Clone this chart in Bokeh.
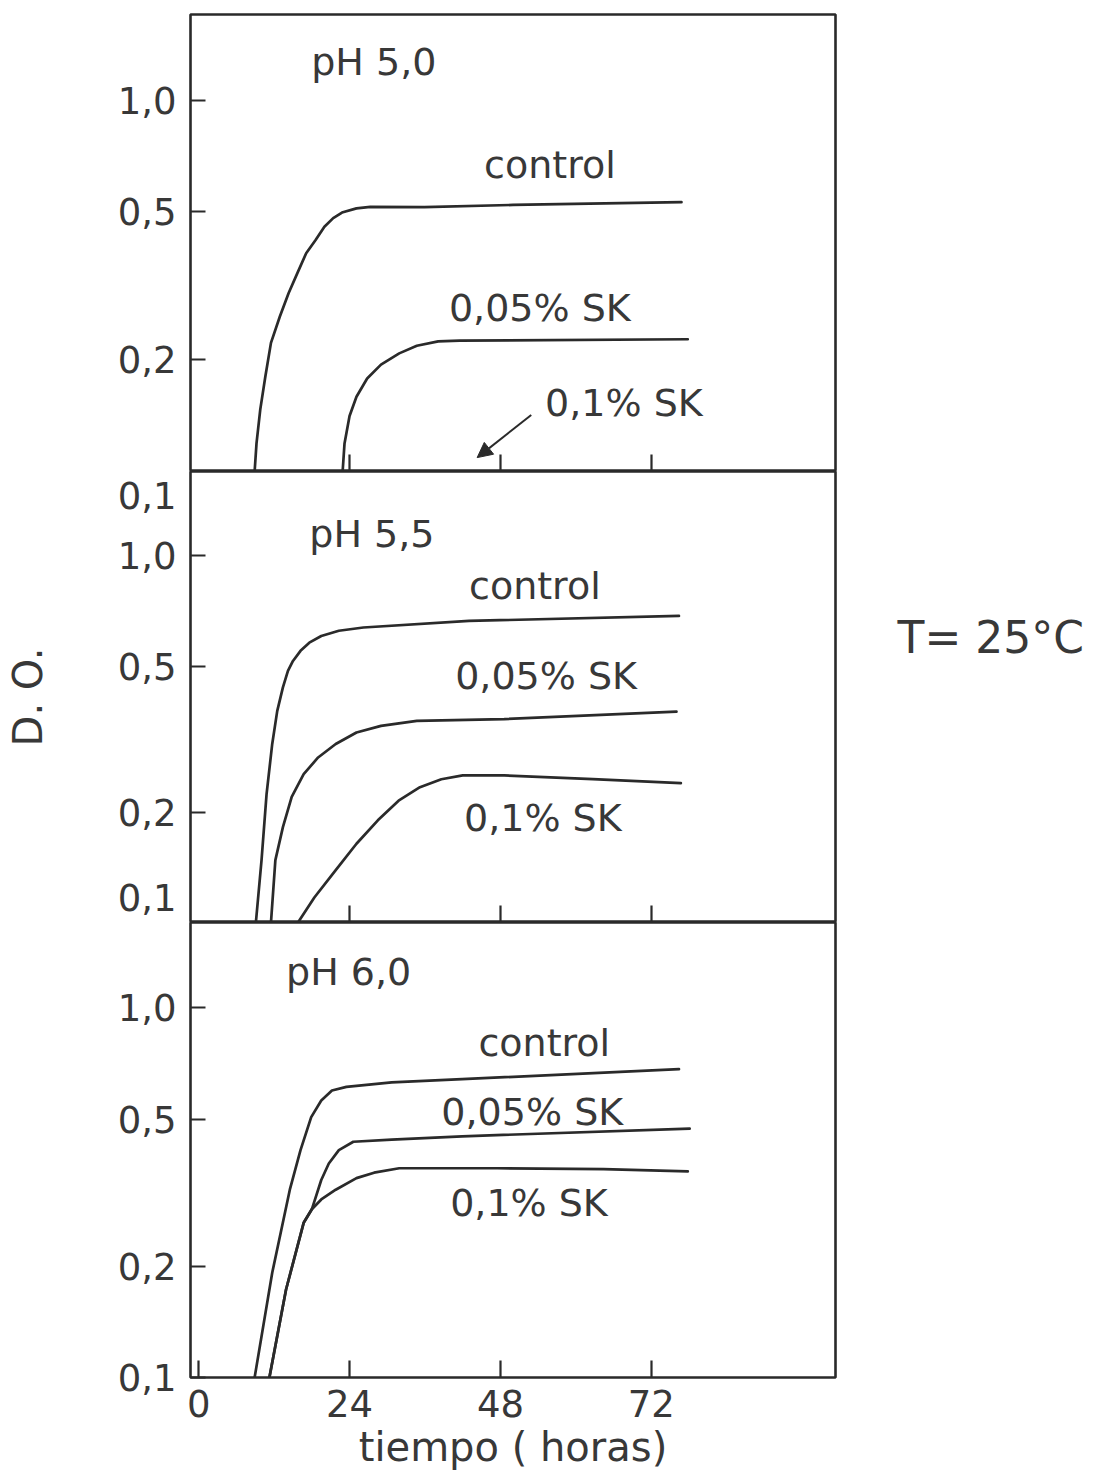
import math
from bokeh.plotting import figure
from bokeh.models import (Range1d, FixedTicker, Arrow, NormalHead, LogAxis,
                          ColumnDataSource, CustomJSTickFormatter)
from bokeh.layouts import column
from bokeh.core.properties import value
from bokeh.embed import file_html
from bokeh.resources import INLINE

# ---------------- data (hours, D.O.) ----------------
# pH 5,0
ph50_control_h = [8.9, 9.2, 9.8, 10.6, 11.5, 12.9, 14.3, 15.7, 17.1, 18.6, 20.0, 21.4, 22.8,
                  25.1, 27.3, 35.9, 50.0, 76.8]
ph50_control_v = [0.100, 0.119, 0.147, 0.180, 0.222, 0.261, 0.302, 0.342, 0.387, 0.420, 0.456,
                  0.481, 0.498, 0.511, 0.516, 0.515, 0.522, 0.531]
ph50_sk005_h = [22.9, 23.2, 24.0, 25.1, 26.8, 29.0, 31.9, 34.7, 38.1, 41.5, 77.8]
ph50_sk005_v = [0.100, 0.119, 0.141, 0.159, 0.178, 0.194, 0.208, 0.218, 0.224, 0.225, 0.227]
ph50_sk01_h = [0.0, 77.8]
ph50_sk01_v = [0.100, 0.100]

# pH 5,5
ph55_control_h = [9.1, 10.0, 10.8, 11.7, 12.5, 13.4, 14.2, 15.0, 16.2, 17.6, 19.5, 22.3, 26.2,
                  43.0, 76.4]
ph55_control_v = [0.100, 0.148, 0.224, 0.307, 0.378, 0.438, 0.486, 0.517, 0.551, 0.580, 0.605,
                  0.625, 0.638, 0.665, 0.686]
ph55_sk005_h = [11.5, 12.2, 13.4, 14.8, 16.7, 19.0, 21.8, 25.1, 29.0, 34.7, 48.6, 76.0]
ph55_sk005_v = [0.100, 0.148, 0.182, 0.220, 0.254, 0.282, 0.307, 0.330, 0.344, 0.355, 0.359, 0.376]
ph55_sk01_h = [15.8, 18.4, 21.8, 25.1, 28.5, 31.8, 35.2, 38.6, 42.0, 48.6, 62.7, 76.7]
ph55_sk01_v = [0.100, 0.117, 0.139, 0.164, 0.190, 0.215, 0.234, 0.246, 0.252, 0.252, 0.246, 0.240]

# pH 6,0
ph60_control_h = [8.9, 11.7, 14.5, 16.2, 17.9, 19.5, 21.2, 23.5, 30.7, 41.9, 76.4]
ph60_control_v = [0.100, 0.192, 0.322, 0.412, 0.506, 0.561, 0.597, 0.611, 0.628, 0.641, 0.682]
ph60_sk005_h = [11.25, 13.9, 16.7, 18.0, 19.5, 20.7, 22.3, 24.6, 30.7, 41.9, 78.1]
ph60_sk005_v = [0.100, 0.173, 0.262, 0.285, 0.342, 0.379, 0.412, 0.434, 0.440, 0.449, 0.471]
ph60_sk01_h = [11.25, 13.9, 16.7, 18.0, 19.5, 21.8, 25.1, 27.9, 31.9, 47.5, 64.4, 77.8]
ph60_sk01_v = [0.100, 0.173, 0.262, 0.285, 0.303, 0.322, 0.346, 0.358, 0.368, 0.368, 0.366, 0.361]

# labels inside panels (text, hours, D.O. at the text baseline)
ph50_labels = ["pH 5,0", "control", "0,05% SK", "0,1% SK"]
ph50_label_h = [17.9, 45.4, 39.8, 55.1]
ph50_label_v = [1.155, 0.609, 0.251, 0.139]
ph55_labels = ["pH 5,5", "control", "0,05% SK", "0,1% SK"]
ph55_label_h = [17.6, 43.0, 40.8, 42.2]
ph55_label_v = [1.042, 0.754, 0.429, 0.176]
ph60_labels = ["pH 6,0", "control", "0,05% SK", "0,1% SK"]
ph60_label_h = [13.9, 44.5, 38.6, 40.0]
ph60_label_v = [1.140, 0.733, 0.476, 0.270]

# arrow pointing to the 0,1% SK curve at pH 5,0
arrow_start = (52.9, 0.142)
arrow_end = (44.3, 0.109)

x_ticks = [24, 48, 72]
x_ticks_bottom = [0, 24, 48, 72]
y_ticks = [0.2, 0.5, 1.0]
y_ticks_bottom = [0.1, 0.2, 0.5, 1.0]
X_RANGE = (-1.3, 101.3)
Y_RANGE = (0.1, 1.7)

y_title = "D. O."
temp_note = "T= 25°C"
temp_note_at = 0.601
x_title = "tiempo ( horas)"

FONT = "DejaVu Sans"
INK = "#2a2a2a"
TXT = "#383838"

FRAME_W = 645
FRAME_H = (457, 451, 455)
DECADE_PX = FRAME_H[1] / math.log10(Y_RANGE[1] / Y_RANGE[0])
# where the two "0,1" labels that sit on the shared borders are written (in the middle panel)
upper_zero_one = Y_RANGE[1] * 10 ** (-24 / DECADE_PX)
lower_zero_one = Y_RANGE[0] * 10 ** (25 / DECADE_PX)

fmt_y = CustomJSTickFormatter(code="""
    if (tick > 1.2 || tick < 0.15) return "0,1";
    return tick.toFixed(1).replace('.', ',');
""")
fmt_blank = CustomJSTickFormatter(code="return '';")


def style_ticks_only(ax, tick_in):
    ax.formatter = fmt_blank
    ax.major_label_standoff = 0
    ax.major_label_text_font_size = "0px"
    ax.major_tick_in = tick_in
    ax.major_tick_out = 0
    ax.minor_tick_in = 0
    ax.minor_tick_out = 0
    ax.major_tick_line_color = INK
    ax.major_tick_line_width = 2.2
    ax.axis_line_color = None


def style_labels(ax, standoff=14):
    ax.formatter = fmt_y
    ax.major_label_standoff = standoff
    ax.major_label_text_font = FONT
    ax.major_label_text_font_size = "37px"
    ax.major_label_text_color = TXT


def make_panel(frame_h, top_border, bottom):
    p = figure(frame_width=FRAME_W, frame_height=frame_h,
               x_range=Range1d(*X_RANGE), y_range=Range1d(*Y_RANGE),
               y_axis_type="log", output_backend="svg", toolbar_location=None,
               min_border_left=190, min_border_right=265,
               min_border_top=top_border, min_border_bottom=0)
    p.grid.visible = False
    p.outline_line_color = INK
    p.outline_line_width = 2.6
    p.background_fill_color = "white"
    p.border_fill_color = "white"
    p.yaxis.ticker = FixedTicker(ticks=y_ticks_bottom if bottom else y_ticks)
    p.xaxis.ticker = FixedTicker(ticks=x_ticks_bottom if bottom else x_ticks)
    style_ticks_only(p.xaxis[0], 17)
    style_ticks_only(p.yaxis[0], 15)
    style_labels(p.yaxis[0])
    if bottom:
        ax = p.xaxis[0]
        ax.formatter = CustomJSTickFormatter(code="return tick.toFixed(0);")
        ax.major_label_standoff = 12
        ax.major_label_text_font = FONT
        ax.major_label_text_font_size = "37px"
        ax.major_label_text_color = TXT
        ax.axis_label = x_title
        ax.axis_label_standoff = 4
        ax.axis_label_text_font = FONT
        ax.axis_label_text_font_size = "40px"
        ax.axis_label_text_font_style = "normal"
        ax.axis_label_text_color = TXT
    return p


def add_curves(p, series):
    for h, v in series:
        p.line(h, v, line_color=INK, line_width=2.7, line_join="round", line_cap="round")


def add_texts(p, texts, hs, vs):
    src = ColumnDataSource(dict(x=hs, y=vs, t=texts))
    p.text(x="x", y="y", text="t", source=src, text_font=value(FONT),
           text_font_size="38px", text_color=TXT, text_align="left",
           text_baseline="alphabetic", y_offset=-15)


p1 = make_panel(FRAME_H[0], 14, False)
add_curves(p1, [(ph50_control_h, ph50_control_v), (ph50_sk005_h, ph50_sk005_v),
                (ph50_sk01_h, ph50_sk01_v)])
add_texts(p1, ph50_labels, ph50_label_h, ph50_label_v)
p1.add_layout(Arrow(end=NormalHead(size=15, fill_color=INK, line_color=INK),
                    x_start=arrow_start[0], y_start=arrow_start[1],
                    x_end=arrow_end[0], y_end=arrow_end[1],
                    line_color=INK, line_width=2))

# middle panel: tick marks from the main axis, tick labels from a second axis
p2 = make_panel(FRAME_H[1], 0, False)
style_ticks_only(p2.yaxis[0], 15)
lab_axis = LogAxis(ticker=FixedTicker(ticks=[lower_zero_one] + y_ticks + [upper_zero_one]))
style_ticks_only(lab_axis, 0)
style_labels(lab_axis)
lab_axis.axis_label = y_title
lab_axis.axis_label_standoff = 64
lab_axis.axis_label_text_font = FONT
lab_axis.axis_label_text_font_size = "40px"
lab_axis.axis_label_text_font_style = "normal"
lab_axis.axis_label_text_color = TXT
p2.add_layout(lab_axis, "left")
add_curves(p2, [(ph55_control_h, ph55_control_v), (ph55_sk005_h, ph55_sk005_v),
                (ph55_sk01_h, ph55_sk01_v)])
add_texts(p2, ph55_labels, ph55_label_h, ph55_label_v)
note_axis = LogAxis(ticker=FixedTicker(ticks=[temp_note_at]),
                    formatter=CustomJSTickFormatter(args=dict(t=temp_note), code="return t;"),
                    major_tick_in=0, major_tick_out=0, minor_tick_in=0, minor_tick_out=0,
                    axis_line_color=None, major_label_standoff=62,
                    major_label_text_font=FONT, major_label_text_font_size="44px",
                    major_label_text_color=TXT)
p2.add_layout(note_axis, "right")

p3 = make_panel(FRAME_H[2], 0, True)
add_curves(p3, [(ph60_control_h, ph60_control_v), (ph60_sk005_h, ph60_sk005_v),
                (ph60_sk01_h, ph60_sk01_v)])
add_texts(p3, ph60_labels, ph60_label_h, ph60_label_v)

layout = column(p1, p2, p3, spacing=0)
open("out.html", "w").write(file_html(layout, INLINE))
